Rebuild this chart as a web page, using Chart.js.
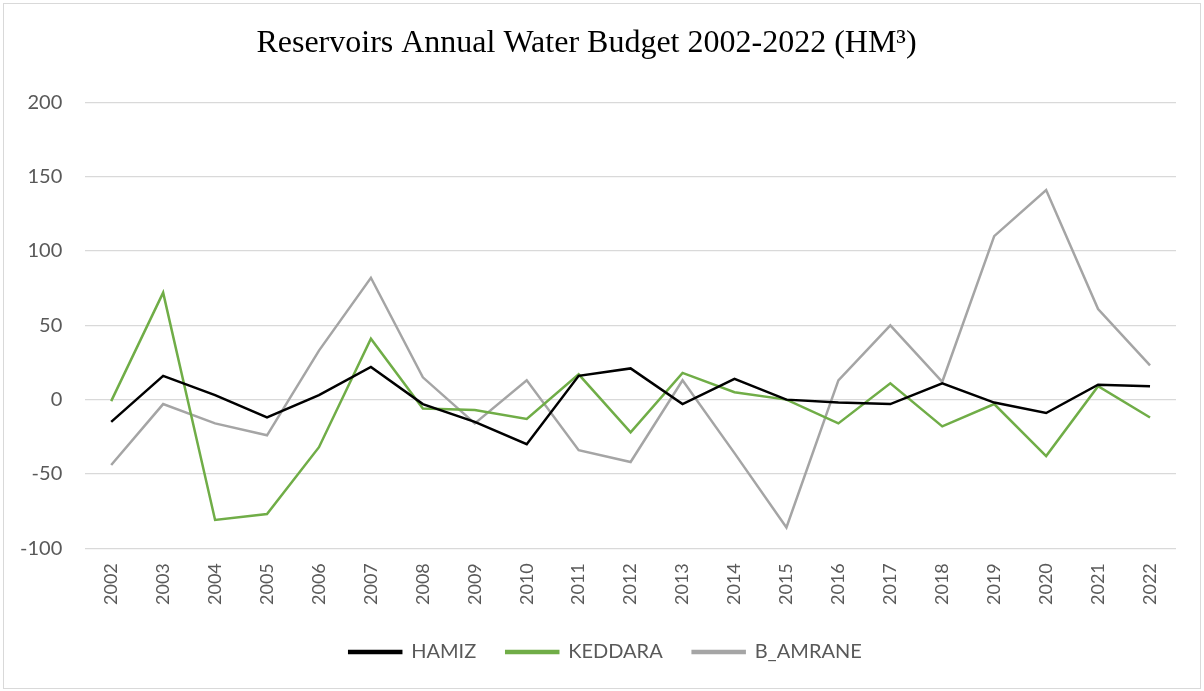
<!DOCTYPE html>
<html>
<head>
<meta charset="utf-8">
<title>Reservoirs Annual Water Budget</title>
<script src="https://cdn.jsdelivr.net/npm/chart.js@4/dist/chart.umd.min.js"></script>
<style>
  html, body { margin: 0; padding: 0; background: #fff; }
  #frame {
    position: absolute; left: 3px; top: 3px;
    width: 1196px; height: 684px;
    border: 1px solid #d9d9d9;
  }
  #wrap { position: absolute; left: 0; top: 0; width: 1204px; height: 691px; }
</style>
</head>
<body>
<div id="frame"></div>
<div id="wrap"><canvas id="chart" width="1204" height="691"></canvas></div>
<script>
const years = ["2002", "2003", "2004", "2005", "2006", "2007", "2008", "2009", "2010", "2011", "2012",
  "2013", "2014", "2015", "2016", "2017", "2018", "2019", "2020", "2021", "2022"];

// annual budget per reservoir, HM3
const hamiz = [-15, 16, 3, -12, 3, 22, -3, -15, -30, 16, 21, -3, 14, 0, -2, -3, 11, -2, -9, 10, 9];
const keddara = [-1, 72, -81, -77, -32, 41, -6, -7, -13, 17, -22, 18, 5, 0, -16, 11, -18, -3, -38, 9, -12];
const bAmrane = [-44, -3, -16, -24, 33, 82, 15, -16, 13, -34, -42, 13, -36, -86, 13, 50, 12, 110, 141, 61, 23];

const yTicks = { min: -100, max: 200, step: 50 };

const sans = "Lato, 'Open Sans', sans-serif";

function line(label, data, color) {
  return {
    label: label,
    data: data,
    borderColor: color,
    backgroundColor: color,
    borderWidth: 2.5,
    pointRadius: 0,
    tension: 0
  };
}

// nudge the legend a bit to the right so it sits under the middle of the page
const legendShift = {
  id: "legendShift",
  afterLayout(chart) {
    chart.legend.left += 19;
    chart.legend.right += 19;
  }
};

new Chart(document.getElementById("chart"), {
  type: "line",
  data: {
    labels: years,
    datasets: [
      line("HAMIZ", hamiz, "#000000"),
      line("KEDDARA", keddara, "#70ad47"),
      line("B_AMRANE", bAmrane, "#a5a5a5")
    ]
  },
  options: {
    responsive: false,
    animation: false,
    layout: { padding: { left: -3, right: 28, top: 16, bottom: 19 } },
    plugins: {
      title: {
        display: true,
        text: "Reservoirs Annual Water Budget 2002-2022 (HM³)",
        color: "#000",
        font: { family: "'Liberation Serif', 'Times New Roman', serif", size: 32, weight: "normal" },
        padding: { top: 8, bottom: 40 }
      },
      legend: {
        position: "bottom",
        labels: {
          color: "#595959",
          font: { family: sans, size: 20 },
          boxWidth: 52,
          boxHeight: 2,
          padding: 30
        }
      },
      tooltip: { enabled: false }
    },
    scales: {
      x: {
        offset: true,
        grid: { display: false },
        border: { display: false },
        ticks: {
          color: "#595959",
          font: { family: sans, size: 18 },
          minRotation: 90,
          maxRotation: 90,
          padding: 7
        }
      },
      y: {
        min: yTicks.min,
        max: yTicks.max,
        grid: { color: "#d9d9d9", lineWidth: 1.3, drawTicks: false },
        border: { display: false },
        ticks: {
          stepSize: yTicks.step,
          color: "#595959",
          font: { family: sans, size: 20 },
          padding: 23
        }
      }
    }
  },
  plugins: [legendShift]
});
</script>
</body>
</html>
